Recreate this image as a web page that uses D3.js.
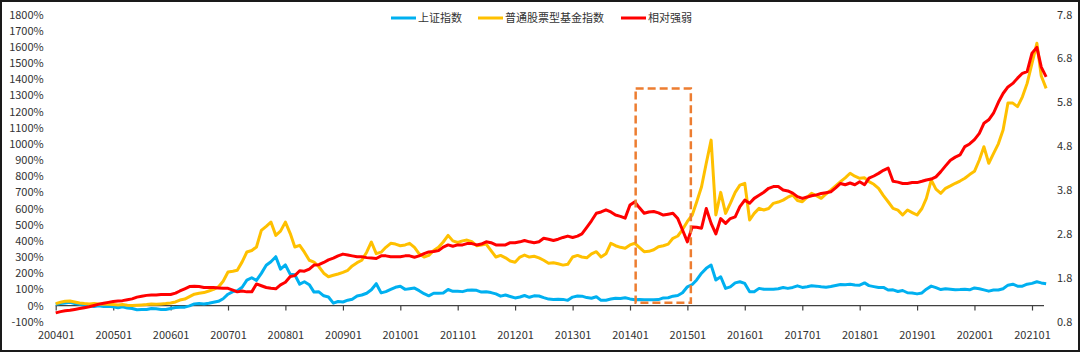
<!DOCTYPE html>
<html>
<head>
<meta charset="utf-8">
<script src="https://cdn.jsdelivr.net/npm/d3@7"></script>
<style>
  html, body { margin: 0; padding: 0; background: #fff; }
  svg { display: block; font-family: "Noto Sans CJK SC", "Noto Sans", sans-serif; }
</style>
</head>
<body>
<div id="chart"></div>
<script>
// ---- Data (monthly points, 2004-01 .. 2021-04) ----
const startMonth = "2004-01";
const endMonth = "2021-04";

// 上证指数, cumulative return (%)
const sseIndex = [
  8, 12, 16, 20, 12, 8, 0, -2, -6, -2, -6, -4,
  -8, -14, -8, -16, -18, -26, -24, -24, -18, -20, -24, -24,
  -18, -12, -10, -10, -2, 10, 12, 10, 14, 20, 26, 42,
  70, 86, 92, 113, 157, 172, 155, 199, 249, 271, 302, 225,
  251, 193, 190, 132, 147, 129, 83, 85, 60, 53, 15, 25,
  22, 33, 39, 59, 65, 76, 98, 135, 78, 86, 100, 113,
  119, 100, 104, 108, 92, 73, 60, 76, 76, 77, 99, 88,
  88, 86, 94, 96, 94, 83, 85, 80, 72, 58, 65, 56,
  47, 53, 62, 51, 60, 59, 49, 40, 37, 39, 38, 32,
  52, 59, 58, 49, 45, 54, 32, 33, 40, 45, 43, 48,
  41, 36, 37, 36, 35, 36, 37, 47, 48, 58, 62, 79,
  116, 130, 158, 200, 230, 250, 158, 178, 106, 115, 140, 147,
  137, 85, 85, 106, 101, 100, 101, 104, 111, 106, 112, 122,
  112, 116, 122, 120, 116, 113, 118, 124, 130, 129, 132, 127,
  126, 140, 123, 117, 111, 112, 96, 97, 87, 93, 79, 78,
  72, 78, 101, 120, 111, 99, 104, 101, 98, 99, 101, 97,
  109, 104, 97, 89, 96, 96, 104, 126, 132, 120, 120, 132,
  137, 147, 140, 135
];

// 普通股票型基金指数, cumulative return (%)
const fundIndex = [
  12, 20, 26, 28, 22, 16, 12, 10, 12, 10, 8, 8,
  6, 4, 6, 2, 0, 2, 4, 6, 9, 8, 10, 12,
  16, 22, 34, 40, 55, 70, 76, 80, 90, 100, 115, 150,
  207, 212, 218, 270, 331, 340, 362, 465, 490, 516, 434, 460,
  516, 445, 362, 372, 330, 280, 269, 240, 200, 178, 187, 195,
  205, 218, 245, 265, 280, 330, 393, 321, 330, 360, 385, 380,
  370, 375, 385, 360, 320, 300, 310, 340, 360, 393, 434, 400,
  390, 400, 405, 395, 370, 375, 380, 340, 300, 310, 295, 275,
  268, 300, 312, 300, 305, 295, 280, 262, 265, 258, 250, 255,
  300, 310, 300, 295, 320, 333, 300, 320, 385, 370, 360, 354,
  375, 385, 360, 333, 335, 345, 364, 370, 380, 416, 430, 470,
  520, 560, 640, 735, 880, 1023, 560, 700, 570, 632, 700, 745,
  756, 529, 570, 601, 591, 600, 632, 640, 652, 670, 683, 650,
  642, 670, 694, 680, 663, 690, 714, 740, 766, 790, 818, 800,
  787, 790, 766, 750, 725, 680, 642, 601, 590, 560, 591, 575,
  560, 600, 663, 776, 720, 694, 725, 740, 756, 770, 787, 810,
  830, 900, 982, 880, 940, 1000, 1085, 1252, 1252, 1230, 1291, 1374,
  1498, 1622, 1420, 1343
];

// 相对强弱 (right axis)
const relStrength = [
  1.00, 1.03, 1.05, 1.06, 1.08, 1.10, 1.12, 1.14, 1.17, 1.20, 1.22, 1.24,
  1.26, 1.27, 1.28, 1.30, 1.32, 1.36, 1.38, 1.40, 1.41, 1.41, 1.42, 1.42,
  1.42, 1.45, 1.50, 1.55, 1.60, 1.61, 1.60, 1.58, 1.58, 1.58, 1.57, 1.56,
  1.56, 1.52, 1.48, 1.50, 1.48, 1.48, 1.66, 1.62, 1.58, 1.56, 1.55, 1.64,
  1.70, 1.83, 1.85, 1.96, 1.95, 2.00, 2.09, 2.10, 2.15, 2.21, 2.25, 2.30,
  2.34, 2.32, 2.30, 2.28, 2.28, 2.26, 2.25, 2.24, 2.30, 2.30, 2.28, 2.28,
  2.28, 2.30, 2.30, 2.27, 2.30, 2.35, 2.39, 2.40, 2.42, 2.50, 2.55, 2.52,
  2.55, 2.55, 2.58, 2.58, 2.55, 2.57, 2.62, 2.60, 2.55, 2.55, 2.55, 2.60,
  2.60, 2.62, 2.65, 2.62, 2.60, 2.62, 2.70, 2.68, 2.65, 2.68, 2.72, 2.75,
  2.72, 2.75, 2.80, 2.95, 3.10, 3.27, 3.30, 3.35, 3.30, 3.23, 3.20, 3.16,
  3.46, 3.53, 3.40, 3.27, 3.30, 3.31, 3.28, 3.23, 3.25, 3.27, 3.15, 2.89,
  2.62, 2.96, 2.95, 2.93, 3.38, 3.04, 2.80, 3.15, 3.04, 3.15, 3.19, 3.42,
  3.57, 3.50, 3.61, 3.68, 3.75, 3.84, 3.88, 3.88, 3.80, 3.78, 3.73, 3.65,
  3.61, 3.64, 3.67, 3.69, 3.72, 3.74, 3.76, 3.85, 3.95, 3.92, 3.96, 3.92,
  3.99, 3.92, 4.07, 4.12, 4.18, 4.25, 4.30, 4.00, 3.98, 3.95, 3.95, 3.97,
  3.97, 4.00, 4.03, 4.05, 4.10, 4.22, 4.35, 4.48, 4.55, 4.60, 4.79, 4.85,
  4.95, 5.09, 5.32, 5.40, 5.55, 5.80, 6.00, 6.15, 6.23, 6.35, 6.46, 6.50,
  6.92, 7.05, 6.60, 6.38
];

// Axis ticks
const xTickYears = d3.range(2004, 2022);
const leftTicks = d3.range(-100, 1801, 100);
const rightTicks = [0.8, 1.8, 2.8, 3.8, 4.8, 5.8, 6.8, 7.8];

// Highlight box (dates, % on left axis)
const boxDates = ["2014-02-06", "2015-01-23"];
const boxRange = [17, 1343];

const seriesNames = ["上证指数", "普通股票型基金指数", "相对强弱"];
const seriesColors = ["#00B0F0", "#FFC000", "#FF0000"];

// ---- Setup ----
const W = 1080, H = 352;
const parseMonth = d3.timeParse("%Y-%m");
const parseDay = d3.timeParse("%Y-%m-%d");
const months = d3.timeMonth.range(parseMonth(startMonth), d3.timeMonth.offset(parseMonth(endMonth), 1));

const svg = d3.select("#chart").append("svg")
  .attr("width", W).attr("height", H);

svg.append("rect")
  .attr("x", 1).attr("y", 1).attr("width", W - 2).attr("height", H - 2)
  .attr("fill", "#fff").attr("stroke", "#1a1a1a").attr("stroke-width", 2);

// ---- Scales ----
const x = d3.scaleTime()
  .domain([new Date(2004, 0, 1), new Date(2021, 0, 1)])
  .range([55.7, 1032]);
const yL = d3.scaleLinear().domain([-100, 1800]).range([321.7, 14.5]);
const yR = d3.scaleLinear().domain([0.8, 7.8]).range([321.7, 14.5]);

const textColor = "#333";

// ---- Left axis ----
const gL = svg.append("g")
  .attr("transform", "translate(55.7,0)")
  .call(d3.axisLeft(yL).tickValues(leftTicks).tickSize(0).tickPadding(12)
    .tickFormat(d => d + "%"));
gL.select(".domain").remove();

// ---- Right axis ----
const gR = svg.append("g")
  .attr("transform", "translate(1048,0)")
  .call(d3.axisRight(yR).tickValues(rightTicks).tickSize(0).tickPadding(9)
    .tickFormat(d3.format(".1f")));
gR.select(".domain").remove();

// ---- Bottom axis (crosses at 0%) ----
const gX = svg.append("g")
  .attr("transform", `translate(0,${yL(0)})`)
  .call(d3.axisBottom(x)
    .tickValues(xTickYears.map(y => new Date(y, 0, 1)))
    .tickSize(5).tickPadding(21)
    .tickFormat(d3.timeFormat("%Y%m")));
gX.select(".domain").remove();
gX.append("line")
  .attr("x1", 55.7).attr("x2", 1044).attr("y1", 0).attr("y2", 0)
  .attr("stroke", "#404040").attr("stroke-width", 1.2);
gX.selectAll(".tick line").attr("stroke", "#404040").attr("stroke-width", 1.2);

svg.selectAll(".tick text")
  .attr("fill", textColor)
  .style("font-size", "11px")
  .style("font-family", "'Noto Sans CJK SC', 'Noto Sans', sans-serif");

// ---- Lines ----
const lineL = d3.line().x((d, i) => x(months[i])).y(d => yL(d));
const lineR = d3.line().x((d, i) => x(months[i])).y(d => yR(d));

const plot = svg.append("g");
plot.append("path").datum(sseIndex)
  .attr("d", lineL).attr("fill", "none")
  .attr("stroke", seriesColors[0]).attr("stroke-width", 3).attr("stroke-linejoin", "round");
plot.append("path").datum(fundIndex)
  .attr("d", lineL).attr("fill", "none")
  .attr("stroke", seriesColors[1]).attr("stroke-width", 3).attr("stroke-linejoin", "round");
plot.append("path").datum(relStrength)
  .attr("d", lineR).attr("fill", "none")
  .attr("stroke", seriesColors[2]).attr("stroke-width", 3).attr("stroke-linejoin", "round");

// ---- Highlight box ----
const bx0 = x(parseDay(boxDates[0])), bx1 = x(parseDay(boxDates[1]));
svg.append("rect")
  .attr("x", bx0).attr("y", yL(boxRange[1]))
  .attr("width", bx1 - bx0).attr("height", yL(boxRange[0]) - yL(boxRange[1]))
  .attr("fill", "none").attr("stroke", "#ED7D31")
  .attr("stroke-width", 2.5).attr("stroke-dasharray", "8,4");

// ---- Legend ----
const legendX = [391, 478, 621];
const legend = svg.append("g").selectAll("g")
  .data(seriesNames)
  .join("g")
  .attr("transform", (d, i) => `translate(${legendX[i]},18)`);
legend.append("line")
  .attr("x1", 0).attr("x2", 25)
  .attr("stroke", (d, i) => seriesColors[i]).attr("stroke-width", 3);
legend.append("text")
  .attr("x", 27).attr("dy", "0.35em")
  .attr("fill", textColor)
  .style("font-size", "11px")
  .text(d => d);
</script>
</body>
</html>
